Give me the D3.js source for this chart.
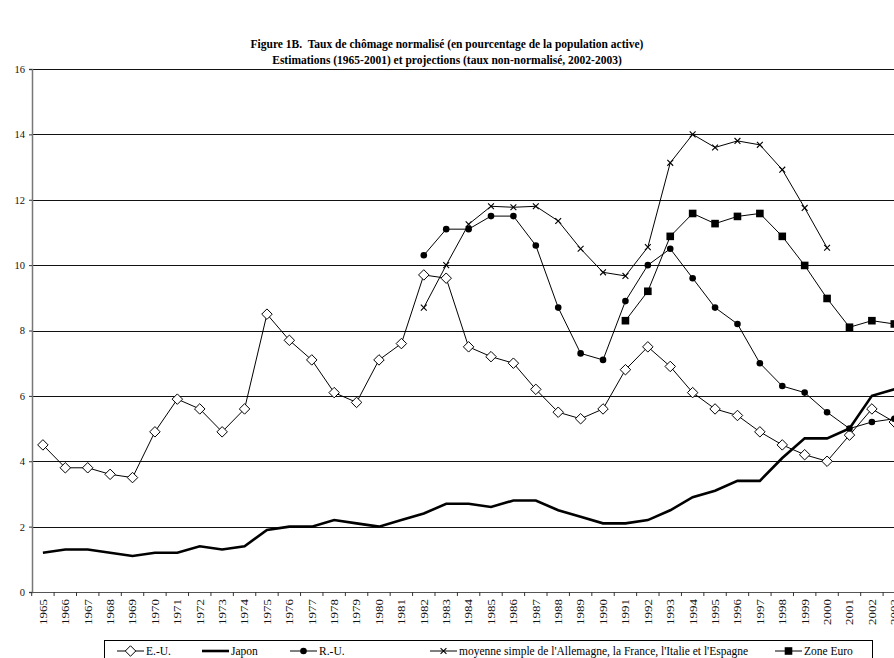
<!DOCTYPE html>
<meta charset="utf-8">
<title>Taux de chômage normalisé</title>
<script src="https://d3js.org/d3.v7.min.js"></script>
<style>
body { margin: 0; background: white; }
svg, svg text { font-family: "Liberation Serif", "Times New Roman", serif; }
.title { font-size: 11.5px; font-weight: bold; white-space: pre; }
.tick text { font-size: 10.5px; }
</style>
<body>
<div id="chart"></div>
<script>
// years on the x axis
var years = d3.range(1965, 2004);

// series values (null = no data)
var eu = [4.5, 3.8, 3.8, 3.6, 3.5, 4.9, 5.9, 5.6, 4.9, 5.6, 8.5, 7.7, 7.1, 6.1, 5.8, 7.1, 7.6, 9.7, 9.6, 7.5,
          7.2, 7.0, 6.2, 5.5, 5.3, 5.6, 6.8, 7.5, 6.9, 6.1, 5.6, 5.4, 4.9, 4.5, 4.2, 4.0, 4.8, 5.6, 5.2];
var japon = [1.2, 1.3, 1.3, 1.2, 1.1, 1.2, 1.2, 1.4, 1.3, 1.4, 1.9, 2.0, 2.0, 2.2, 2.1, 2.0, 2.2, 2.4, 2.7, 2.7,
             2.6, 2.8, 2.8, 2.5, 2.3, 2.1, 2.1, 2.2, 2.5, 2.9, 3.1, 3.4, 3.4, 4.1, 4.7, 4.7, 5.0, 6.0, 6.2];
var ru = [null, null, null, null, null, null, null, null, null, null, null, null, null, null, null, null, null,
          10.3, 11.1, 11.1, 11.5, 11.5, 10.6, 8.7, 7.3, 7.1, 8.9, 10.0, 10.5, 9.6, 8.7, 8.2, 7.0, 6.3, 6.1, 5.5, 5.0, 5.2, 5.3];
var moyenne = [null, null, null, null, null, null, null, null, null, null, null, null, null, null, null, null, null,
               8.7, 10.0, 11.25, 11.8, 11.77, 11.8, 11.35, 10.5, 9.78, 9.67, 10.55, 13.13, 14.0, 13.6, 13.8, 13.68, 12.92, 11.75, 10.53, null, null, null];
var zoneEuro = [null, null, null, null, null, null, null, null, null, null, null, null, null, null, null, null, null,
                null, null, null, null, null, null, null, null, null, 8.3, 9.2, 10.88, 11.58, 11.27, 11.49, 11.58, 10.88, 9.99, 8.98, 8.1, 8.3, 8.2];

var yTicks = [0, 2, 4, 6, 8, 10, 12, 14, 16];

var seriesNames = ["E.-U.", "Japon", "R.-U.", "moyenne simple de l'Allemagne, la France, l'Italie et l'Espagne", "Zone Euro"];

var W = 894, H = 658;
var svg = d3.select("#chart").append("svg")
  .attr("width", W)
  .attr("height", H);

// titles
svg.append("text").attr("class", "title")
  .attr("x", 447).attr("y", 48).attr("text-anchor", "middle")
  .text("Figure 1B.  Taux de chômage normalisé (en pourcentage de la population active)");
svg.append("text").attr("class", "title")
  .attr("x", 447).attr("y", 64).attr("text-anchor", "middle")
  .text("Estimations (1965-2001) et projections (taux non-normalisé, 2002-2003)");

// scales (plot runs past the right edge of the picture, as in the source)
var x = d3.scaleBand().domain(years).range([31.7, 905.5]);
var y = d3.scaleLinear().domain([0, 16]).range([592, 69]);
var cx = function(yr) { return x(yr) + x.bandwidth() / 2; };

// gridlines
svg.append("g")
  .selectAll("line")
  .data(yTicks.filter(function(d) { return d > 0; }))
  .enter().append("line")
    .attr("x1", 32).attr("x2", 905)
    .attr("y1", function(d) { return Math.round(y(d)) + 0.5; })
    .attr("y2", function(d) { return Math.round(y(d)) + 0.5; })
    .attr("stroke", "#111").attr("stroke-width", 1);

// y axis
var yAxis = svg.append("g")
  .attr("transform", "translate(32,0)")
  .call(d3.axisLeft(y).tickValues(yTicks).tickSize(3).tickPadding(4).tickFormat(d3.format("d")))
  .attr("font-family", null).attr("font-size", null);
yAxis.select(".domain").attr("stroke", "#777").attr("stroke-width", 1.5);
yAxis.selectAll(".tick line").attr("stroke", "#333");
yAxis.selectAll(".tick text").attr("fill", "#111");

// x axis
var xAxis = svg.append("g")
  .attr("transform", "translate(0,592)")
  .call(d3.axisBottom(x).tickSize(0).tickPadding(0))
  .attr("font-family", null).attr("font-size", null);
xAxis.select(".domain").attr("stroke", "#555").attr("stroke-width", 1.2);
xAxis.selectAll(".tick text")
  .attr("transform", "rotate(-90) scale(1.18,1)")
  .attr("text-anchor", "end")
  .attr("x", -6).attr("y", 0).attr("dy", "0.35em")
  .style("font-size", "11px")
  .attr("fill", "#111");
// tick marks between categories
xAxis.append("g").selectAll("line")
  .data(years)
  .enter().append("line")
    .attr("x1", function(d) { return x(d); })
    .attr("x2", function(d) { return x(d); })
    .attr("y1", 0).attr("y2", 4)
    .attr("stroke", "#333");

// lines
function drawLine(vals, width) {
  var line = d3.line()
    .defined(function(d) { return d != null; })
    .x(function(d, i) { return cx(years[i]); })
    .y(function(d) { return y(d); });
  svg.append("path")
    .datum(vals)
    .attr("d", line)
    .attr("fill", "none")
    .attr("stroke", "black")
    .attr("stroke-width", width);
}

var pts = function(vals) {
  return vals.map(function(v, i) { return {year: years[i], v: v}; })
    .filter(function(d) { return d.v != null; });
};

drawLine(japon, 2.6);
drawLine(eu, 1);
drawLine(ru, 1);
drawLine(moyenne, 1);
drawLine(zoneEuro, 1);

// markers
var diamond = d3.symbol().type(d3.symbolDiamond2).size(70);
var cross = d3.symbol().type(d3.symbolX).size(24);

svg.append("g").selectAll("path").data(pts(eu)).enter().append("path")
  .attr("transform", function(d) { return "translate(" + cx(d.year) + "," + y(d.v) + ")"; })
  .attr("d", diamond)
  .attr("fill", "white").attr("stroke", "black").attr("stroke-width", 1);

svg.append("g").selectAll("circle").data(pts(ru)).enter().append("circle")
  .attr("cx", function(d) { return cx(d.year); })
  .attr("cy", function(d) { return y(d.v); })
  .attr("r", 3.3)
  .attr("fill", "black");

svg.append("g").selectAll("path").data(pts(moyenne)).enter().append("path")
  .attr("transform", function(d) { return "translate(" + cx(d.year) + "," + y(d.v) + ")"; })
  .attr("d", cross)
  .attr("fill", "none").attr("stroke", "black").attr("stroke-width", 1.1);

svg.append("g").selectAll("rect").data(pts(zoneEuro)).enter().append("rect")
  .attr("x", function(d) { return cx(d.year) - 3.8; })
  .attr("y", function(d) { return y(d.v) - 3.8; })
  .attr("width", 7.6).attr("height", 7.6)
  .attr("fill", "black");

// legend
var legend = svg.append("g");
legend.append("rect")
  .attr("x", 104.5).attr("y", 640.5)
  .attr("width", 768).attr("height", 40)
  .attr("fill", "white").attr("stroke", "black");

var legX = [117, 202, 290, 430, 775];
var ly = 651;
seriesNames.forEach(function(name, i) {
  var x0 = legX[i];
  legend.append("line")
    .attr("x1", x0).attr("x2", x0 + 27)
    .attr("y1", ly).attr("y2", ly)
    .attr("stroke", "black").attr("stroke-width", i === 1 ? 2.6 : 1);
  var mx = x0 + 13.5;
  if (i === 0) {
    legend.append("path").attr("transform", "translate(" + mx + "," + ly + ")")
      .attr("d", diamond).attr("fill", "white").attr("stroke", "black");
  } else if (i === 2) {
    legend.append("circle").attr("cx", mx).attr("cy", ly).attr("r", 3.3).attr("fill", "black");
  } else if (i === 3) {
    legend.append("path").attr("transform", "translate(" + mx + "," + ly + ")")
      .attr("d", cross).attr("fill", "none").attr("stroke", "black").attr("stroke-width", 1.1);
  } else if (i === 4) {
    legend.append("rect").attr("x", mx - 3.8).attr("y", ly - 3.8)
      .attr("width", 7.6).attr("height", 7.6).attr("fill", "black");
  }
  legend.append("text")
    .attr("x", x0 + 29).attr("y", ly).attr("dy", "0.35em")
    .style("font-size", "11.5px")
    .text(name);
});
</script>
</body>
